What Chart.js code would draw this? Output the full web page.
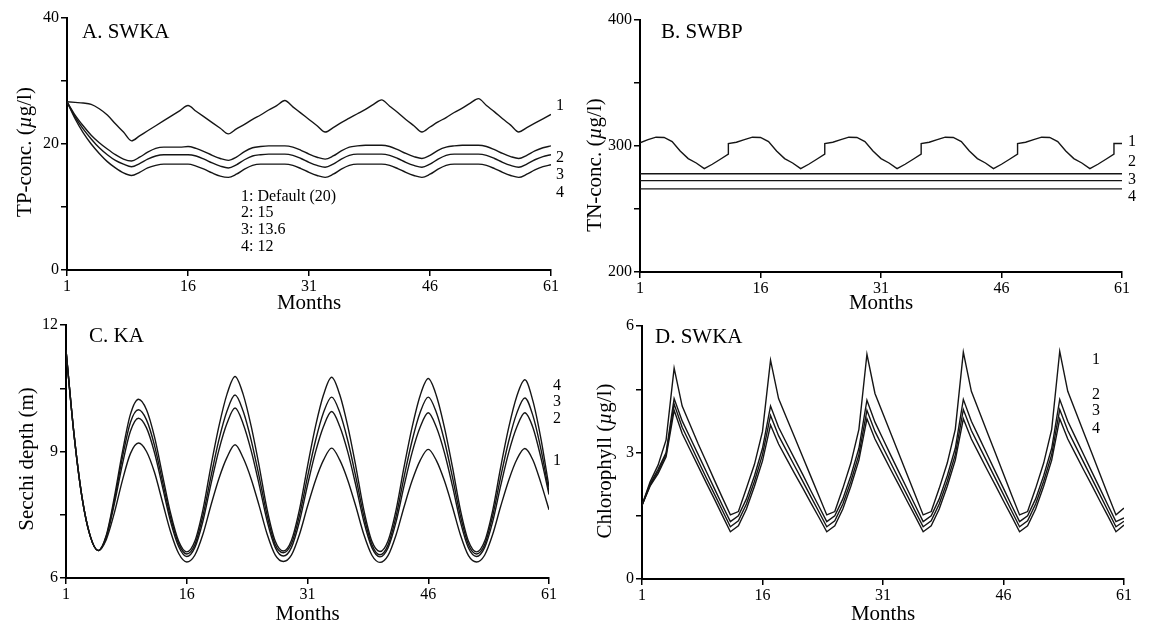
<!DOCTYPE html>
<html lang="en">
<head>
<meta charset="UTF-8">
<title>Model scenarios SWKA / SWBP / KA</title>
<script src="https://cdn.jsdelivr.net/npm/chart.js"></script>
<style>
  body { margin: 0; background: #fff; }
  #wrap { position: relative; width: 1149px; height: 627px; }
  #wrap canvas { position: absolute; left: 0; top: 0; }
</style>
</head>
<body>
<div id="wrap">
  <canvas id="chartA" width="1149" height="627"></canvas>
  <canvas id="chartB" width="1149" height="627"></canvas>
  <canvas id="chartC" width="1149" height="627"></canvas>
  <canvas id="chartD" width="1149" height="627"></canvas>
</div>
<script>
// ---- data ----
const months = [1,2,3,4,5,6,7,8,9,10,11,12,13,14,15,16,17,18,19,20,21,22,23,24,25,26,27,28,29,30,
  31,32,33,34,35,36,37,38,39,40,41,42,43,44,45,46,47,48,49,50,51,52,53,54,55,56,57,58,59,60,61];
const monthTicks = [1, 16, 31, 46, 61];

// A. SWKA, TP-conc. (ug/l)
const tpDefault = [26.7,26.6,26.5,26.3,25.6,24.6,23.2,21.9,20.5,21.3,22.1,22.9,23.7,24.5,25.3,26.1,
  25.2,24.3,23.4,22.5,21.6,22.4,23.1,23.9,24.6,25.4,26.1,26.9,25.9,24.9,23.9,22.9,21.9,
  22.6,23.4,24.1,24.8,25.5,26.3,27.0,26.0,25.0,23.9,22.9,21.9,22.7,23.5,24.2,25.0,25.7,26.5,27.2,
  26.1,25.1,24.0,23.0,21.9,22.6,23.3,24.0,24.7];
const tp15 = [26.7,24.6,22.9,21.4,20.2,19.2,18.3,17.6,17.3,17.9,18.7,19.3,19.5,19.5,19.5,19.6,
  19.3,18.8,18.2,17.7,17.4,17.9,18.8,19.4,19.6,19.7,19.7,19.7,19.5,19.0,18.4,17.9,17.6,
  18.1,18.9,19.5,19.7,19.8,19.8,19.8,19.6,19.1,18.5,18.0,17.7,18.2,19.0,19.5,19.7,19.8,19.8,19.8,
  19.6,19.1,18.5,18.0,17.7,18.2,18.9,19.4,19.7];
const tp136 = [26.7,24.3,22.4,20.8,19.4,18.3,17.4,16.8,16.4,16.9,17.6,18.1,18.3,18.3,18.3,18.3,
  18.1,17.6,17.0,16.5,16.2,16.7,17.5,18.1,18.3,18.4,18.4,18.4,18.2,17.7,17.1,16.6,16.3,
  16.8,17.6,18.2,18.4,18.4,18.4,18.4,18.2,17.7,17.1,16.6,16.3,16.8,17.6,18.2,18.4,18.4,18.4,18.4,
  18.2,17.7,17.1,16.6,16.3,16.8,17.5,18.0,18.3];
const tp12 = [26.7,24.0,21.8,20.0,18.5,17.2,16.2,15.4,15.0,15.5,16.2,16.6,16.8,16.8,16.8,16.8,
  16.5,16.0,15.4,14.9,14.7,15.2,16.0,16.6,16.8,16.8,16.8,16.8,16.6,16.1,15.5,15.0,14.7,
  15.2,16.0,16.6,16.8,16.8,16.8,16.8,16.6,16.1,15.5,15.0,14.7,15.2,16.0,16.6,16.8,16.8,16.8,16.8,
  16.6,16.1,15.5,15.0,14.7,15.2,15.9,16.4,16.7];

// B. SWBP, TN-conc. (ug/l) - default run has a step each year, so months repeat there
const tnDefaultMonths = [1,2,3,4,5,6,7,8,9,10,11,12,12,13,14,15,16,17,18,19,20,21,22,23,24,24,
  25,26,27,28,29,30,31,32,33,34,35,36,36,37,38,39,40,41,42,43,44,45,46,47,48,48,
  49,50,51,52,53,54,55,56,57,58,59,60,60,61];
const tnDefault = [302.5,305,307,306.8,303.5,296,290,286.5,282,285.5,289.5,293.5,302,
  303,305,307,306.8,303.5,296,290,286.5,282,285.5,289.5,293.5,302,
  303,305,307,306.8,303.5,296,290,286.5,282,285.5,289.5,293.5,302,
  303,305,307,306.8,303.5,296,290,286.5,282,285.5,289.5,293.5,302,
  303,305,307,306.8,303.5,296,290,286.5,282,285.5,289.5,293.5,302,302];
const tnFlatMonths = [1, 61];
const tn15 = [278, 278];
const tn136 = [272.5, 272.5];
const tn12 = [266, 266];

// C. KA, Secchi depth (m)
const secchi1 = [11.4,9.4,7.9,7.0,6.65,6.91,7.54,8.31,8.95,9.2,9.0,8.5,7.79,7.09,6.58,
  6.38,6.54,7.03,7.72,8.36,8.86,9.16,8.85,8.35,7.71,7.03,6.54,
  6.39,6.54,7.03,7.7,8.32,8.8,9.08,8.8,8.32,7.7,7.03,6.54,
  6.37,6.53,7.02,7.69,8.31,8.79,9.05,8.79,8.31,7.69,7.02,6.53,
  6.38,6.54,7.03,7.7,8.32,8.81,9.07,8.8,8.25,7.62];
const secchi2 = [11.4,9.4,7.9,7.0,6.65,6.96,7.75,8.69,9.48,9.79,9.56,8.97,8.15,7.33,6.74,
  6.51,6.72,7.34,8.22,9.04,9.67,10.03,9.66,9.02,8.21,7.34,6.72,
  6.52,6.72,7.34,8.2,8.99,9.6,9.95,9.6,8.99,8.2,7.34,6.72,
  6.5,6.71,7.33,8.19,8.98,9.58,9.92,9.58,8.98,8.19,7.33,6.71,
  6.51,6.72,7.33,8.19,8.98,9.58,9.92,9.57,8.85,7.98];
const secchi3 = [11.4,9.4,7.9,7.0,6.65,6.99,7.83,8.85,9.69,9.99,9.75,9.14,8.28,7.43,6.81,
  6.57,6.79,7.47,8.4,9.28,9.96,10.34,9.96,9.27,8.4,7.47,6.79,
  6.6,6.81,7.48,8.4,9.26,9.93,10.29,9.93,9.26,8.4,7.47,6.79,
  6.55,6.78,7.46,8.4,9.26,9.93,10.29,9.93,9.26,8.4,7.47,6.79,
  6.57,6.79,7.47,8.4,9.25,9.91,10.27,9.85,9.05,8.04];
const secchi4 = [11.4,9.4,7.9,7.0,6.65,7.01,7.91,8.98,9.88,10.24,9.99,9.34,8.43,7.53,6.87,
  6.62,6.87,7.61,8.65,9.6,10.36,10.78,10.36,9.6,8.65,7.61,6.87,
  6.64,6.89,7.62,8.65,9.6,10.35,10.76,10.35,9.6,8.65,7.61,6.87,
  6.63,6.88,7.61,8.64,9.58,10.33,10.73,10.33,9.58,8.64,7.61,6.87,
  6.62,6.87,7.6,8.63,9.57,10.31,10.7,10.2,9.3,8.16];

// D. SWKA, Chlorophyll (ug/l)
const chl1 = [1.75,2.3,2.7,3.3,5.0,4.1,3.65,3.2,2.78,2.35,1.93,1.52,
  1.6,2.15,2.72,3.5,5.19,4.28,3.82,3.36,2.9,2.44,1.98,1.52,
  1.6,2.15,2.75,3.55,5.33,4.4,3.92,3.44,2.96,2.48,2.0,1.52,
  1.6,2.15,2.75,3.55,5.38,4.45,3.96,3.47,2.98,2.49,2.0,1.52,
  1.6,2.15,2.75,3.55,5.4,4.45,3.96,3.47,2.98,2.49,2.0,1.52,1.68];
const chl2 = [1.75,2.25,2.6,3.0,4.28,3.75,3.35,2.95,2.55,2.15,1.75,1.36,
  1.5,1.9,2.45,3.1,4.1,3.6,3.22,2.85,2.48,2.1,1.73,1.36,
  1.5,1.9,2.45,3.1,4.24,3.72,3.32,2.92,2.53,2.14,1.75,1.36,
  1.5,1.9,2.45,3.1,4.26,3.74,3.34,2.94,2.54,2.15,1.75,1.36,
  1.5,1.9,2.45,3.1,4.26,3.74,3.34,2.94,2.54,2.15,1.75,1.36,1.45];
const chl3 = [1.75,2.22,2.55,2.95,4.15,3.6,3.2,2.8,2.4,2.02,1.63,1.24,
  1.38,1.78,2.32,2.95,3.88,3.4,3.04,2.68,2.32,1.96,1.6,1.24,
  1.38,1.78,2.32,2.95,4.0,3.5,3.12,2.74,2.36,1.99,1.61,1.24,
  1.38,1.78,2.32,2.95,4.02,3.52,3.14,2.76,2.38,2.0,1.62,1.24,
  1.38,1.78,2.32,2.95,4.02,3.52,3.14,2.76,2.38,2.0,1.62,1.24,1.37];
const chl4 = [1.75,2.2,2.5,2.9,4.0,3.45,3.06,2.67,2.28,1.9,1.51,1.12,
  1.26,1.66,2.2,2.8,3.65,3.2,2.85,2.5,2.16,1.81,1.47,1.12,
  1.26,1.66,2.2,2.82,3.8,3.32,2.95,2.58,2.22,1.85,1.49,1.12,
  1.26,1.66,2.2,2.82,3.8,3.32,2.95,2.58,2.22,1.85,1.49,1.12,
  1.26,1.66,2.2,2.82,3.8,3.32,2.95,2.58,2.22,1.85,1.49,1.12,1.28];

// y ticks (all marked, only some labelled)
const tpTicks = [0, 10, 20, 30, 40],      tpLabels = [0, 20, 40];
const tnTicks = [200, 250, 300, 350, 400], tnLabels = [200, 300, 400];
const secchiTicks = [6, 7.5, 9, 10.5, 12], secchiLabels = [6, 9, 12];
const chlTicks = [0, 1.5, 3, 4.5, 6],      chlLabels = [0, 3, 6];

// ---- drawing ----
const SERIF = '"Liberation Serif", "Times New Roman", serif';
const INK = '#151515';

function pts(xs, ys) {
  return ys.map((y, i) => ({ x: xs[i], y: y }));
}

// panel letter, y title (with italic mu), series numbers and notes
const panelText = {
  id: 'panelText',
  afterDraw(chart, args, o) {
    const ctx = chart.ctx;
    ctx.save();
    ctx.fillStyle = '#000';
    ctx.textBaseline = 'middle';
    ctx.textAlign = 'left';
    ctx.font = '21px ' + SERIF;
    ctx.fillText(o.title, o.titleX, o.titleY);

    // rotated y title
    ctx.save();
    ctx.translate(o.yTitleX, o.yTitleY);
    ctx.rotate(-Math.PI / 2);
    let total = 0;
    o.yTitle.forEach(p => {
      ctx.font = (p.it ? 'italic ' : '') + '21px ' + SERIF;
      total += ctx.measureText(p.t).width;
    });
    let x = -total / 2;
    o.yTitle.forEach(p => {
      ctx.font = (p.it ? 'italic ' : '') + '21px ' + SERIF;
      ctx.fillText(p.t, x, 0);
      x += ctx.measureText(p.t).width;
    });
    ctx.restore();

    ctx.font = '16px ' + SERIF;
    (o.numbers || []).forEach(n => ctx.fillText(n.t, n.x, n.y));
    (o.notes || []).forEach(n => ctx.fillText(n.t, n.x, n.y));
    ctx.restore();
  }
};

function line(data, smooth) {
  return {
    data: data,
    borderColor: INK,
    borderWidth: 1.4,
    pointRadius: 0,
    fill: false,
    tension: smooth ? 0.4 : 0,
    cubicInterpolationMode: smooth ? 'monotone' : 'default'
  };
}

function makePanel(id, p) {
  const axisFont = { family: SERIF, size: 16 };
  return new Chart(document.getElementById(id), {
    type: 'line',
    data: { datasets: p.datasets },
    options: {
      responsive: false,
      animation: false,
      events: [],
      layout: { padding: p.pad },
      plugins: { legend: { display: false }, tooltip: { enabled: false }, panelText: p.text },
      scales: {
        x: {
          type: 'linear', min: 1, max: 61,
          afterBuildTicks: s => { s.ticks = monthTicks.map(v => ({ value: v })); },
          afterFit: s => { s.height = p.xh; },
          ticks: { color: '#000', font: axisFont, padding: 1, maxRotation: 0, autoSkip: false },
          grid: { drawOnChartArea: false, drawTicks: true, tickLength: 6, color: '#000', lineWidth: 1.5 },
          border: { display: true, color: '#000', width: 2 },
          title: { display: true, text: 'Months', color: '#000', font: { family: SERIF, size: 21 }, padding: 0 }
        },
        y: {
          min: p.yTicks[0], max: p.yTicks[p.yTicks.length - 1],
          afterBuildTicks: s => { s.ticks = p.yTicks.map(v => ({ value: v })); },
          afterFit: s => { s.width = p.yw; },
          ticks: {
            color: '#000', font: axisFont, padding: 2, autoSkip: false,
            callback: v => p.yLabels.includes(v) ? String(v) : ''
          },
          grid: { drawOnChartArea: false, drawTicks: true, tickLength: 6, color: '#000', lineWidth: 1.5 },
          border: { display: true, color: '#000', width: 2 }
        }
      }
    },
    plugins: [panelText]
  });
}

makePanel('chartA', {
  pad: { left: 0, top: 18, right: 598, bottom: 311 }, yw: 67, xh: 46,
  yTicks: tpTicks, yLabels: tpLabels,
  datasets: [line(pts(months, tpDefault), true), line(pts(months, tp15), true),
             line(pts(months, tp136), true), line(pts(months, tp12), true)],
  text: {
    title: 'A. SWKA', titleX: 82, titleY: 32,
    yTitle: [{ t: 'TP-conc. (' }, { t: 'µ', it: true }, { t: 'g/l)' }], yTitleX: 25, yTitleY: 152,
    numbers: [{ t: '1', x: 556, y: 106 }, { t: '2', x: 556, y: 158 }, { t: '3', x: 556, y: 175 }, { t: '4', x: 556, y: 193 }],
    notes: [{ t: '1: Default (20)', x: 241, y: 197 }, { t: '2: 15', x: 241, y: 213 },
            { t: '3: 13.6', x: 241, y: 230 }, { t: '4: 12', x: 241, y: 247 }]
  }
});

makePanel('chartB', {
  pad: { left: 575, top: 20, right: 27, bottom: 311 }, yw: 65, xh: 44,
  yTicks: tnTicks, yLabels: tnLabels,
  datasets: [line(pts(tnDefaultMonths, tnDefault), false), line(pts(tnFlatMonths, tn15), false),
             line(pts(tnFlatMonths, tn136), false), line(pts(tnFlatMonths, tn12), false)],
  text: {
    title: 'B. SWBP', titleX: 661, titleY: 32,
    yTitle: [{ t: 'TN-conc. (' }, { t: 'µ', it: true }, { t: 'g/l)' }], yTitleX: 595, yTitleY: 165,
    numbers: [{ t: '1', x: 1128, y: 142 }, { t: '2', x: 1128, y: 162 }, { t: '3', x: 1128, y: 180 }, { t: '4', x: 1128, y: 197 }]
  }
});

makePanel('chartC', {
  pad: { left: 0, top: 325, right: 600, bottom: 0 }, yw: 66, xh: 49,
  yTicks: secchiTicks, yLabels: secchiLabels,
  datasets: [line(pts(months, secchi1), true), line(pts(months, secchi2), true),
             line(pts(months, secchi3), true), line(pts(months, secchi4), true)],
  text: {
    title: 'C. KA', titleX: 89, titleY: 336,
    yTitle: [{ t: 'Secchi depth (m)' }], yTitleX: 27, yTitleY: 459,
    numbers: [{ t: '4', x: 553, y: 386 }, { t: '3', x: 553, y: 402 }, { t: '2', x: 553, y: 419 }, { t: '1', x: 553, y: 461 }]
  }
});

makePanel('chartD', {
  pad: { left: 575, top: 326, right: 25, bottom: 0 }, yw: 67, xh: 48,
  yTicks: chlTicks, yLabels: chlLabels,
  datasets: [line(pts(months, chl1), false), line(pts(months, chl2), false),
             line(pts(months, chl3), false), line(pts(months, chl4), false)],
  text: {
    title: 'D. SWKA', titleX: 655, titleY: 337,
    yTitle: [{ t: 'Chlorophyll (' }, { t: 'µ', it: true }, { t: 'g/l)' }], yTitleX: 605, yTitleY: 461,
    numbers: [{ t: '1', x: 1092, y: 360 }, { t: '2', x: 1092, y: 395 }, { t: '3', x: 1092, y: 411 }, { t: '4', x: 1092, y: 429 }]
  }
});
</script>
</body>
</html>
